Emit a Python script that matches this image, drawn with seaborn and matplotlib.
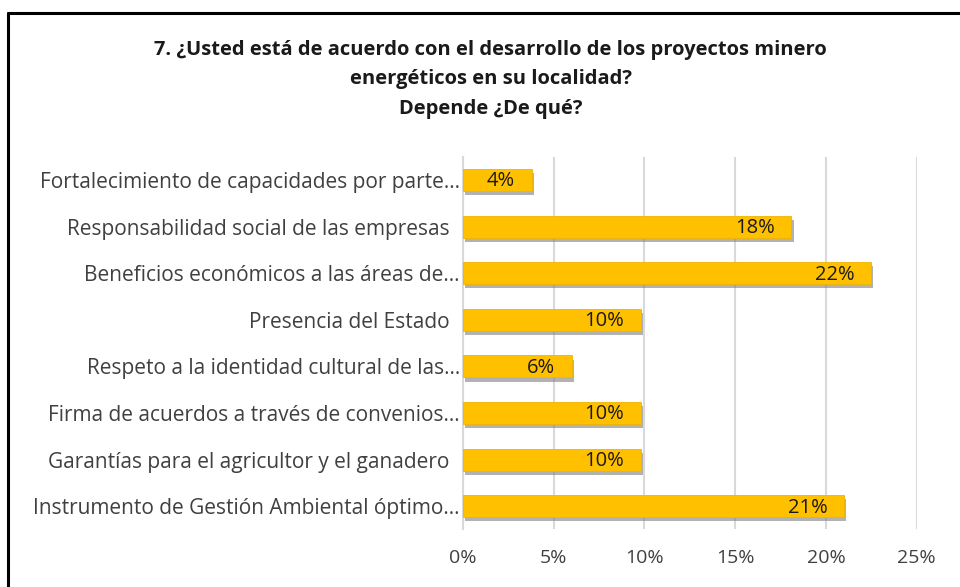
import matplotlib
matplotlib.use("Agg")
import matplotlib.pyplot as plt
import matplotlib.patheffects as pe
from matplotlib.ticker import PercentFormatter
import seaborn as sns
import pandas as pd

categorias = [
    "Fortalecimiento de capacidades por parte...",
    "Responsabilidad social de las empresas  ",
    "Beneficios económicos a las áreas de...",
    "Presencia del Estado  ",
    "Respeto a la identidad cultural de las...",
    "Firma de acuerdos a través de convenios...",
    "Garantías para el agricultor y el ganadero  ",
    "Instrumento de Gestión Ambiental óptimo...",
]
valores = [3.8, 18.1, 22.5, 9.8, 6.0, 9.8, 9.8, 21.0]
etiquetas = ["4%", "18%", "22%", "10%", "6%", "10%", "10%", "21%"]
ticks_x = [0, 5, 10, 15, 20, 25]

titulo = ("7. ¿Usted está de acuerdo con el desarrollo de los proyectos minero\n"
          "energéticos en su localidad?\n"
          "Depende ¿De qué?")

sns.set_style("white")
plt.rcParams['font.family'] = ['Open Sans', 'DejaVu Sans']

df = pd.DataFrame({"categoria": categorias, "valor": valores})

fig = plt.figure(figsize=(9.6, 5.87), dpi=100)
ax = fig.add_axes([0.482, 0.098, 0.473, 0.635])

sns.barplot(data=df, x="valor", y="categoria", orient="h", color="#FFC000",
            width=0.47, edgecolor="#F0B400", linewidth=0.6, saturation=1, ax=ax)

for bar in ax.patches:
    bar.set_path_effects([pe.SimplePatchShadow(offset=(1.5, -3), shadow_rgbFace="#7f7f7f", alpha=0.6),
                          pe.Normal()])
    bar.set_zorder(3)

for bar, txt in zip(ax.patches, etiquetas):
    ax.annotate(txt, (bar.get_x() + bar.get_width(), bar.get_y() + bar.get_height() / 2),
                xytext=(-12, -1), textcoords="offset points", ha="right", va="center",
                fontsize=14.5, color="#1a1a1a", zorder=5)

ax.set_xlim(0, 25)
ax.set_xticks(ticks_x)
ax.xaxis.set_major_formatter(PercentFormatter(decimals=0))
ax.grid(axis="x", color="#d9d9d9", linewidth=1.5, zorder=0)
ax.set_axisbelow(True)
for s in ["top", "right", "bottom"]:
    ax.spines[s].set_visible(False)
ax.spines["left"].set_color("#d9d9d9")
ax.spines["left"].set_linewidth(1.5)
ax.set_xlabel("")
ax.set_ylabel("")
ax.tick_params(axis="x", length=0, pad=14, labelsize=14, labelcolor="#404040")
ax.tick_params(axis="y", length=0, pad=2, labelsize=15, labelcolor="#404040")

fig.text(0.511, 0.932, titulo, ha="center", va="top", fontsize=14.5,
         fontweight="bold", color="#1a1a1a", linespacing=1.62)

# marco exterior (recortado a la derecha y abajo)
fig.add_artist(plt.Line2D([0.0085, 0.0085], [0, 0.978], color="black", linewidth=2.2,
                          transform=fig.transFigure))
fig.add_artist(plt.Line2D([0.0085, 1.0], [0.978, 0.978], color="black", linewidth=2.2,
                          transform=fig.transFigure))

fig.savefig("out.png", dpi=100)
